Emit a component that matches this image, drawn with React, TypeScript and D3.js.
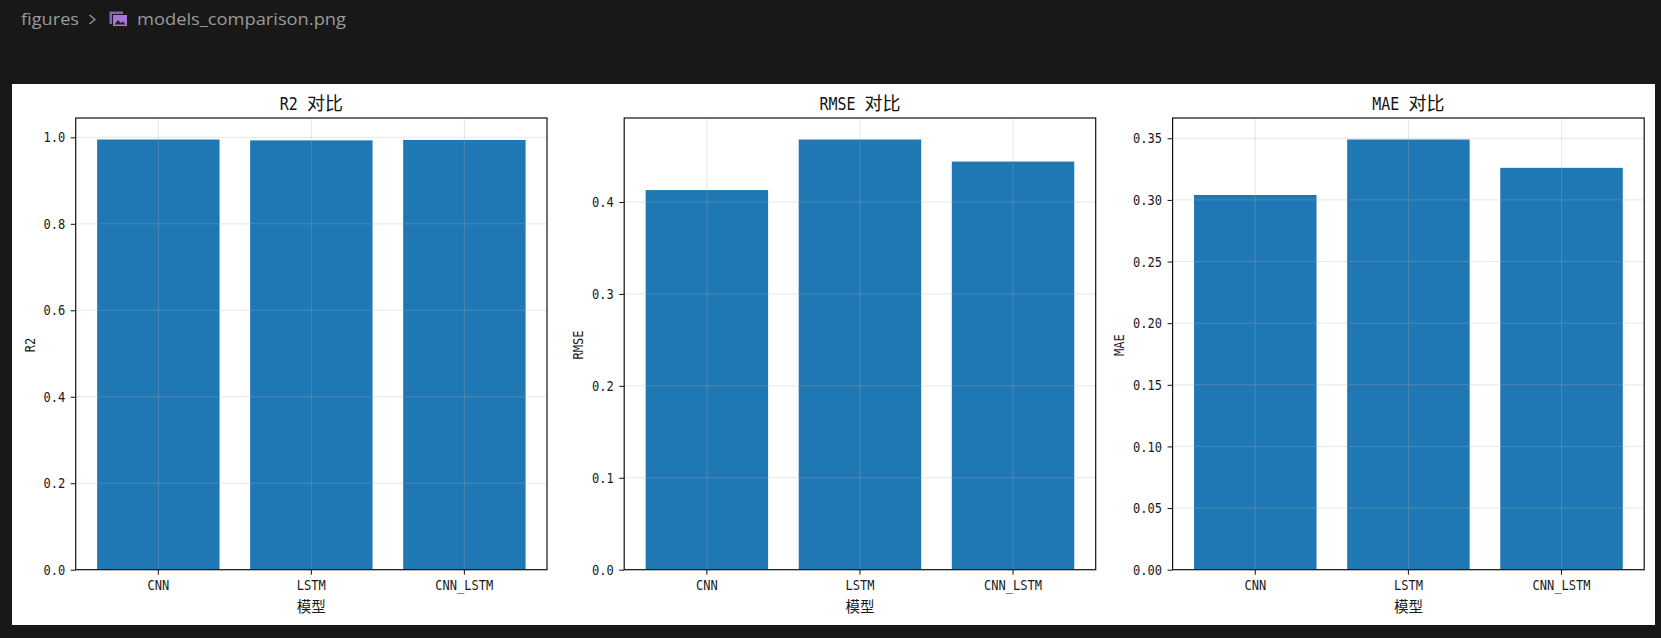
import { useEffect, useRef } from "react";
import * as d3 from "d3";

const models = ["CNN", "LSTM", "CNN_LSTM"];
const r2Values = [0.995, 0.993, 0.994];
const rmseValues = [0.413, 0.468, 0.444];
const maeValues = [0.304, 0.349, 0.326];
const r2Ticks = [0, 0.2, 0.4, 0.6, 0.8, 1.0];
const rmseTicks = [0, 0.1, 0.2, 0.3, 0.4];
const maeTicks = [0, 0.05, 0.1, 0.15, 0.2, 0.25, 0.3, 0.35];

const WIDTH = 1661;
const HEIGHT = 638;
const barColor = "#1f77b4";
const latinFont = '"DejaVu Sans Mono"';
const cjkFont = '"Noto Sans CJK SC"';

type G = d3.Selection<SVGGElement, unknown, null, undefined>;

// SimHei like text: half width latin, full width CJK
function fillText(sel: d3.Selection<SVGTextElement, any, any, any>, text: string, size: number) {
  const runs = text.match(/[^\s\u4e00-\u9fff]+|\s*[\u4e00-\u9fff]+/g) ?? [];
  sel.text(null).attr("font-size", size);
  runs.forEach((run) => {
    const isCjk = /[\u4e00-\u9fff]/.test(run);
    const span = sel.append("tspan").attr("font-family", isCjk ? cjkFont : latinFont).text(run);
    if (!isCjk) {
      span.attr("textLength", run.length * size * 0.5).attr("lengthAdjust", "spacingAndGlyphs");
    } else if (run.startsWith(" ")) {
      // CJK font's space is narrower than the half width cell
      span.attr("dx", size * 0.28);
    }
  });
}

function drawPanel(
  root: G,
  title: string,
  yLabel: string,
  values: number[],
  ticks: number[],
  fmt: string,
  left: number,
  right: number,
  yLabelX: number
) {
  const top = 118;
  const bottom = 569.7;
  const x = d3.scaleBand<string>().domain(models).range([left, right]).paddingInner(0.2).paddingOuter(0.14);
  const y = d3.scaleLinear().domain([0, (d3.max(values) as number) * 1.05]).range([bottom, top]);
  const g = root.append("g");

  g.selectAll("rect.bar")
    .data(values)
    .enter()
    .append("rect")
    .attr("class", "bar")
    .attr("x", (_, i) => x(models[i]) as number)
    .attr("y", (d) => y(d))
    .attr("width", x.bandwidth())
    .attr("height", (d) => bottom - y(d))
    .attr("fill", barColor);

  // grid sits above the bars
  g.selectAll("line.gy")
    .data(ticks)
    .enter()
    .append("line")
    .attr("x1", left)
    .attr("x2", right)
    .attr("y1", (d) => y(d))
    .attr("y2", (d) => y(d))
    .attr("stroke", "#b0b0b0")
    .attr("stroke-opacity", 0.3);
  g.selectAll("line.gx")
    .data(models)
    .enter()
    .append("line")
    .attr("x1", (d) => (x(d) as number) + x.bandwidth() / 2)
    .attr("x2", (d) => (x(d) as number) + x.bandwidth() / 2)
    .attr("y1", top)
    .attr("y2", bottom)
    .attr("stroke", "#b0b0b0")
    .attr("stroke-opacity", 0.3);

  const yAxis = g
    .append("g")
    .attr("transform", `translate(${left},0)`)
    .call(d3.axisLeft(y).tickValues(ticks).tickSize(5).tickPadding(5.5).tickFormat(d3.format(fmt) as any));
  const xAxis = g
    .append("g")
    .attr("transform", `translate(0,${bottom})`)
    .call(d3.axisBottom(x).tickSize(5).tickPadding(5));

  yAxis.selectAll<SVGTextElement, number>("text").each(function (d) {
    fillText(d3.select(this), d3.format(fmt)(d), 14.5);
  });
  xAxis.selectAll<SVGTextElement, string>("text").each(function (d) {
    fillText(d3.select(this), d, 14.5);
  });
  yAxis.selectAll("line").attr("stroke", "#111");
  xAxis.selectAll("line").attr("stroke", "#111");
  yAxis.select(".domain").remove();
  xAxis.select(".domain").remove();
  g.selectAll("text").attr("fill", "#1a1a1a");

  g.append("rect")
    .attr("x", left)
    .attr("y", top)
    .attr("width", right - left)
    .attr("height", bottom - top)
    .attr("fill", "none")
    .attr("stroke", "#111")
    .attr("stroke-width", 1.2);

  g.append("text")
    .attr("x", (left + right) / 2)
    .attr("y", 110)
    .attr("text-anchor", "middle")
    .attr("fill", "#111")
    .call((s) => fillText(s, title, 18));

  g.append("text")
    .attr("x", (left + right) / 2)
    .attr("y", 612)
    .attr("text-anchor", "middle")
    .attr("fill", "#1a1a1a")
    .call((s) => fillText(s, "模型", 14.5));

  g.append("text")
    .attr("transform", `translate(${yLabelX},345) rotate(-90)`)
    .attr("text-anchor", "middle")
    .attr("fill", "#1a1a1a")
    .call((s) => fillText(s, yLabel, 14.5));
}

export default function App() {
  const svgRef = useRef<SVGSVGElement | null>(null);

  useEffect(() => {
    const svg = d3.select(svgRef.current);
    svg.selectAll("*").remove();
    const root = svg.append("g") as unknown as G;

    root.append("rect").attr("width", WIDTH).attr("height", HEIGHT).attr("fill", "#181818");
    root.append("rect").attr("x", 12).attr("y", 84).attr("width", 1643).attr("height", 541).attr("fill", "#fff");

    // editor breadcrumb
    const crumb = root.append("g").attr("font-family", '"Open Sans"').attr("font-size", 17).attr("fill", "#9a9a9a");
    crumb.append("text").attr("x", 21).attr("y", 25).attr("textLength", 58).attr("lengthAdjust", "spacingAndGlyphs").text("figures");
    crumb.append("path").attr("d", "M89.5 15 L95 19.5 L89.5 24").attr("fill", "none").attr("stroke", "#9a9a9a").attr("stroke-width", 1.3);
    crumb.append("path").attr("d", "M109.5 11.5 H123 V14 H112 V24 H109.5 Z").attr("fill", "#8a5fc0");
    crumb.append("rect").attr("x", 113).attr("y", 15).attr("width", 14).attr("height", 11).attr("fill", "#a875d8");
    crumb.append("path").attr("d", "M114.5 24.5 L118 20 L121 23 L123 21.5 L125.5 24.5 Z").attr("fill", "#222");
    crumb.append("text").attr("x", 137).attr("y", 25).attr("textLength", 209).attr("lengthAdjust", "spacingAndGlyphs").text("models_comparison.png");

    drawPanel(root, "R2 对比", "R2", r2Values, r2Ticks, ".1f", 75.7, 547, 34.5);
    drawPanel(root, "RMSE 对比", "RMSE", rmseValues, rmseTicks, ".1f", 624.2, 1095.7, 583);
    drawPanel(root, "MAE 对比", "MAE", maeValues, maeTicks, ".2f", 1172.6, 1644.2, 1124);
  }, []);

  return (
    <svg
      ref={svgRef}
      width={WIDTH}
      height={HEIGHT}
      style={{ position: "fixed", left: 0, top: 0, display: "block" }}
    />
  );
}
